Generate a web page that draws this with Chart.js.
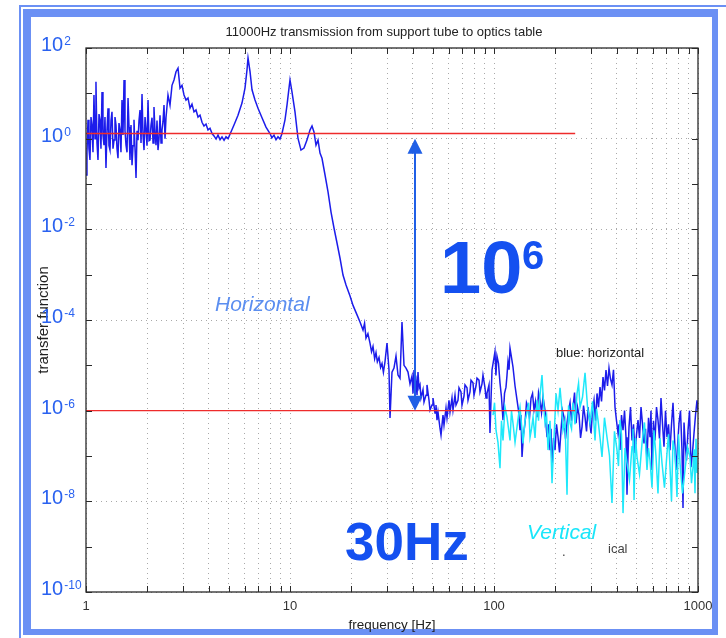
<!DOCTYPE html>
<html>
<head>
<meta charset="utf-8">
<title>11000Hz transmission</title>
<script src="https://cdn.jsdelivr.net/npm/chart.js@4.4.0/dist/chart.umd.min.js"></script>
<style>
  html, body { margin: 0; padding: 0; background: #fff; }
  canvas { display: block; }
</style>
</head>
<body>
<canvas id="tfChart" width="726" height="638"></canvas>
<script>
// horizontal transfer function (blue)
const freqH = [
    1.00, 1.011, 1.023, 1.034, 1.046, 1.058, 1.07, 1.082, 1.094, 1.107, 1.119, 1.132, 1.145, 1.158, 1.171, 1.184, 1.198, 1.211, 1.225, 1.239,
    1.253, 1.267, 1.282, 1.296, 1.311, 1.326, 1.341, 1.356, 1.372, 1.387, 1.403, 1.419, 1.435, 1.451, 1.468, 1.484, 1.501, 1.518, 1.536, 1.553,
    1.571, 1.589, 1.607, 1.625, 1.643, 1.662, 1.681, 1.700, 1.719, 1.739, 1.759, 1.779, 1.799, 1.819, 1.84, 1.861, 1.882, 1.903, 1.925, 1.947,
    1.969, 1.991, 2.014, 2.037, 2.06, 2.083, 2.107, 2.131, 2.154, 2.179, 2.204, 2.229, 2.254, 2.280, 2.306, 2.332, 2.358, 2.385, 2.412, 2.440,
    2.467, 2.523, 2.581, 2.64, 2.70, 2.762, 2.825, 2.89, 2.955, 3.023, 3.092, 3.162, 3.234, 3.308, 3.384, 3.461, 3.54, 3.621, 3.704, 3.788, 3.875, 3.963, 4.054,
    4.15, 4.241, 4.34, 4.437, 4.54, 4.642, 4.75, 4.856, 4.97, 5.08, 5.314, 5.56, 5.816, 6.017, 6.155, 6.226, 6.369, 6.513, 6.737, 6.969, 7.29,
    7.627, 7.98, 8.15, 8.348, 8.54, 8.733, 8.93, 9.137, 9.451, 9.667, 9.888, 10.0,
    10.23, 10.58, 10.94, 11.32, 11.71, 12.11, 12.53, 12.82, 13.11, 13.41, 13.72, 14.03, 14.35, 14.85, 15.36, 15.89, 16.43, 17.0, 17.59, 18.19,
    18.82, 19.69, 20.37, 21.31, 22.04, 22.8, 23.2, 23.58, 24.1, 24.67, 25.1, 25.52, 26.0, 26.4, 26.8, 27.31, 27.8, 28.25, 28.7, 29.22, 29.89,
    30.57, 30.92, 31.62, 32.34, 33.08, 33.84, 34.61, 35.4, 36.21, 37.04, 37.88, 38.75, 39.63,
    40.09, 40.54, 41.0, 41.47, 41.94, 42.41, 42.89, 43.38, 43.87, 44.87,
    45.38, 46.42, 46.94, 48.02, 48.56, 49.67, 50.23, 51.38, 51.96, 52.55,
    53.15, 54.36, 54.98, 56.23, 56.87, 58.17, 58.83, 60.17, 60.85, 62.24,
    62.95, 64.39, 65.12, 66.6, 67.36, 68.9, 69.68, 71.27, 72.08, 73.73,
    74.57, 76.27, 77.14, 78.89, 79.79, 81.61, 82.54, 84.42, 85.38, 87.33,
    88.32, 90.34, 91.37, 92.4, 94.51, 95.58, 96.67, 97.77,
    101.1, 102.2, 103.4, 105.2, 107.0, 108.8, 110.7, 112.6, 114.5, 115.8,
    117.1, 118.5, 119.8, 121.8, 123.9, 126.8, 129.7, 131.9, 134.1, 135.6,
    137.2, 139.5, 141.9, 144.3, 146.8, 149.3, 151.9, 154.5, 157.1, 159.8,
    162.5, 165.3, 168.1, 171.0, 173.9, 177.9, 181.9, 185.0, 188.2, 190.3,
    192.5, 195.8, 199.1, 202.5, 206.0, 209.5, 213.1, 216.7, 220.4, 224.2,
    228.0, 231.9, 235.9, 239.9, 244.0, 248.2, 252.4, 256.7, 261.1, 265.6,
    270.1, 274.7, 279.4, 284.2, 289.0, 294.0, 299.0, 304.1, 309.3, 314.6,
    319.9, 325.4, 330.9, 336.6, 342.3, 348.1, 354.0, 360.1, 366.2, 372.4,
    378.8, 385.3, 391.9, 398.6, 405.4, 410.0, 414.6, 421.7, 429.0, 436.3,
    443.7, 448.7, 453.8, 459.0, 466.8, 474.8, 482.9, 491.2, 499.6, 508.1,
    516.8, 525.6, 534.6, 543.7, 553.0, 562.3, 572.0, 581.7, 588.3, 594.9,
    605.1, 615.4, 626.0, 636.6, 647.6, 658.6, 670.0, 681.3, 693.0, 704.7,
    716.9, 729.0, 741.6, 754.2, 767.1, 780.1, 793.5, 807.0, 820.8, 834.8,
    844.3, 854.0, 863.6, 878.5, 893.4, 908.8, 924.2, 940.0, 956.0, 972.3,
    988.8, 1000
];
const magH = [
    0.158, 0.5, 2.6, 0.6, 0.34, 3.0, 2.0, 0.5, 9.2, 1.0, 18, 0.8, 0.34, 3.5, 2.6, 0.6, 10.7, 1.2, 0.72, 3.0,
    0.225, 1.5, 4.7, 0.7, 0.56, 2.5, 3.9, 0.6, 0.93, 3.0, 2.0, 0.6, 0.37, 2.2, 1.55, 0.5, 7.1, 1.2, 19.7, 1.5,
    0.72, 0.5, 7.9, 1.8, 0.34, 2.0, 0.26, 0.7, 2.6, 0.6, 0.135, 1.5, 0.93, 2.5, 4.3, 0.8, 9.7, 1.2, 0.56, 3.0,
    1.55, 0.7, 7.1, 0.9, 0.93, 2.0, 2.9, 0.8, 5.0, 1.4, 0.72, 2.5, 0.56, 1.0, 3.3, 0.8, 1.55, 2.4, 5.5, 1.0,
    2.9, 9.2, 5.5, 15, 19.7, 30, 36, 13, 15, 9.2, 7.1, 7.9, 4.7, 5.8, 3.9, 4.3, 3.0, 3.3, 2.3, 1.9, 2.1, 1.55, 1.7,
    1.3, 1.15, 0.98, 1.2, 0.95, 1.1, 0.92, 1.1, 1.0, 1.25, 2.0, 3.3, 6.1, 13, 33, 60, 30, 12, 7.1, 4.7, 2.9,
    1.8, 1.3, 1.05, 1.2, 0.95, 1.1, 0.98, 1.3, 2.6, 5.5, 13, 19.7,
    10.7, 3.9, 1.03, 0.56, 0.62, 0.93, 1.55, 1.9, 1.4, 0.72, 0.93, 0.48, 0.37, 0.158, 0.067, 0.024, 0.0107, 5.0e-3, 2.3e-3, 9.8e-4,
    5.9e-4, 3.4e-4, 2.1e-4, 1.3e-4, 9.0e-5, 6.0e-5, 8.5e-5, 4.0e-5, 5.0e-5, 3.1e-5, 2.0e-5, 2.6e-5, 1.4e-5, 1.9e-5, 1.2e-5, 1.5e-5, 9.0e-6, 1.1e-5, 7.0e-6, 1.2e-5, 3.1e-5,
    7.9e-6, 6.9e-7, 7.1e-6, 8.7e-6, 1.6e-5, 6.1e-6, 5.2e-6, 9.0e-5, 1.0e-5, 8.7e-6, 7.1e-6, 3.9e-6, 5.8e-6,
    2.4e-6, 7.9e-6, 3.7e-6, 4.7e-6, 2.2e-6, 7.1e-6, 3.2e-6, 3.7e-6, 1.9e-6, 2.9e-6,
    1.55e-6, 2.2e-6, 3.7e-6, 1.7e-6, 1.03e-6, 1.33e-6, 1.9e-6, 8.9e-7, 1.33e-6, 6.2e-7,
    9.3e-7, 4.1e-7, 2.9e-7, 8.0e-7, 4.8e-7, 1.14e-6, 6.9e-7, 1.7e-6, 9.3e-7, 1.9e-6,
    1.03e-6, 2.2e-6, 1.33e-6, 1.7e-6, 3.2e-6, 2.6e-6, 1.33e-6, 2.1e-6, 3.7e-6, 3.2e-6,
    1.7e-6, 2.6e-6, 4.7e-6, 4.1e-6, 2.2e-6, 3.5e-6, 5.2e-6, 4.7e-6, 2.6e-6, 3.9e-6,
    6.1e-6, 3.2e-6, 1.9e-6, 2.4e-6, 3.7e-6, 3.2e-7, 1.7e-6, 7.9e-6,
    2.0e-5, 6e-6, 1.6e-5, 1.1e-5, 4.1e-6, 2.0e-6, 6.2e-7, 2.4e-6, 3.3e-6, 6e-6,
    1.2e-5, 8e-6, 2.4e-5, 1.5e-5, 9.2e-6, 3.5e-6, 1.7e-6, 1.0e-6, 3.7e-7, 8e-7,
    9.5e-8, 3e-7, 5.3e-7, 1.5e-6, 1.2e-6, 7e-7, 1.9e-6, 2.4e-6, 1.03e-6, 1.6e-6,
    7.2e-7, 2.5e-6, 1.7e-6, 9e-7, 2.0e-6, 1.0e-6, 2.6e-7, 5e-7, 1.35e-7, 4e-7,
    4.9e-8, 2.5e-7, 1.35e-7, 5e-7, 2.6e-7, 1.2e-7, 3.7e-7, 1.0e-6, 7.2e-7, 2.4e-7,
    5.3e-7, 1.0e-6, 1.5e-6, 6e-7, 1.2e-6, 2.5e-6, 5.3e-7, 1.2e-6, 8.0e-7, 2.5e-7,
    4.4e-7, 1.3e-6, 7.2e-7, 3.5e-7, 1.2e-6, 6e-7, 3.2e-7, 1.0e-6, 1.7e-6, 6e-7,
    2.4e-6, 1.2e-6, 3.3e-6, 1.6e-6, 5.5e-6, 2.8e-6, 7.9e-6, 3.5e-6, 8.7e-6, 5e-6,
    3.7e-6, 8e-6, 1.2e-6, 6e-7, 3.2e-7, 5e-7, 1.35e-7, 8e-7, 3.7e-7, 1.0e-6,
    2.6e-7, 1.4e-8, 1.0e-7, 4.4e-7, 1.2e-6, 2.2e-7, 5e-7, 1.16e-7, 3e-7, 6.2e-7,
    2.5e-7, 1.2e-6, 5e-7, 1.9e-7, 4e-7, 8.1e-8, 7e-7, 2.6e-7, 1.0e-6, 4.9e-8,
    6e-7, 2.2e-7, 1.2e-6, 6.2e-7, 2.4e-7, 1.9e-6, 5e-7, 1.6e-7, 1.0e-6, 2.6e-7,
    5e-7, 1.35e-7, 5e-7, 1.5e-6, 2.5e-7, 4.9e-8, 1.6e-7, 5.3e-7, 1.0e-6, 1.35e-7,
    7.1e-9, 5.5e-7, 2.2e-7, 8e-8, 3.7e-7, 1.0e-6, 5.7e-8, 1.2e-7, 3.2e-7, 8e-7,
    1.7e-6, 1.0e-6
];

// vertical transfer function (cyan), only measured above 100 Hz
const freqV = [
    98.9, 100.6, 102.3, 104.6, 107.0, 108.8, 110.7, 113.2, 115.8, 117.8,
    119.8, 121.8, 123.9, 126.8, 129.7, 131.9, 134.1, 136.4, 138.7, 141.9,
    145.1, 147.6, 150.2, 152.8, 155.4, 158.9, 162.5, 165.3, 168.1, 171.9,
    175.0, 177.8, 181.0, 184.0, 188.2, 192.5, 196.9, 201.4, 206.0, 210.7,
    214.3, 217.9, 222.9, 228.0, 232.0, 235.9, 239.9, 244.0, 249.6, 255.3,
    259.7, 264.1, 271.6, 279.4, 287.4, 295.6, 304.0, 312.8, 318.1, 323.5,
    331.0, 338.4, 348.0, 358.0, 368.3, 378.8, 389.5, 400.8, 407.6, 414.6,
    421.7, 429.0, 438.8, 448.7, 461.5, 474.8, 480.0, 485.8, 494.0, 502.3,
    516.6, 531.5, 546.6, 562.3, 571.9, 581.7, 595.0, 608.5, 622.3, 636.6,
    651.2, 666.1, 685.0, 704.7, 716.8, 729.0, 741.5, 754.2, 771.5, 789.0,
    802.5, 816.2, 839.6, 863.6, 888.3, 913.7, 929.3, 945.0, 956.0, 966.7,
    977.7, 988.8
];
const magV = [
    8.0e-7, 1.5e-6, 3.7e-7, 2.0e-7, 5.4e-8, 6e-7, 2.2e-7, 1.2e-6, 7.2e-7, 4e-7,
    2.2e-7, 1.0e-6, 5.3e-7, 2.0e-7, 4.4e-7, 8e-7, 1.2e-6, 5e-7, 1.9e-7, 6e-7,
    8.9e-7, 1.5e-6, 2.6e-7, 4e-7, 7.2e-7, 2.5e-7, 1.7e-6, 6e-7, 2.2e-6, 6.1e-6,
    1.4e-6, 5.3e-7, 8e-7, 1.35e-7, 6e-7, 2.5e-8, 2.5e-7, 2.4e-6, 1.0e-6, 3.2e-6,
    1.3e-6, 3.7e-7, 6e-7, 1.4e-8, 1.3e-6, 5.3e-7, 4e-7, 1.5e-6, 5e-7, 2.4e-6,
    4e-6, 1.2e-6, 2.0e-6, 6.8e-6, 1.2e-6, 5.3e-7, 1.6e-6, 2.2e-7, 1.1e-6, 6.2e-7,
    2.5e-7, 9.5e-8, 7e-7, 2.6e-7, 1.0e-7, 9.2e-9, 3.5e-7, 1.35e-7, 6e-8, 6.2e-7,
    3e-7, 5.5e-9, 1.5e-7, 7.0e-8, 3e-8, 1.6e-7, 4e-7, 1.07e-8, 2.5e-7, 9.5e-8,
    4e-8, 1.9e-7, 5.5e-7, 4.9e-8, 1.5e-7, 8.1e-8, 2e-8, 3.7e-7, 1.0e-7, 1.5e-8,
    2.5e-7, 7.0e-8, 2.0e-8, 1.16e-7, 3e-7, 5.7e-8, 1.0e-8, 2.2e-7, 1.2e-7, 1.25e-8,
    3e-7, 7.0e-8, 1.5e-8, 4.9e-8, 1.6e-7, 9.5e-8, 2.5e-8, 5.7e-8, 1.4e-7, 1.5e-8,
    2.4e-7, 4.2e-8
];

// red reference levels and the arrow between them
const refFreq = [1, 250];
const refTop = 1.3;
const refBottom = 1.0e-6;
const arrowFreq = 41;
const arrowFrom = 1.0;
const arrowTo = 1.0e-6;

// axes
const xGrid = [1, 2, 3, 4, 5, 6, 7, 8, 9, 10, 20, 30, 40, 50, 60, 70, 80, 90, 100, 200, 300, 400, 500, 600, 700, 800, 900, 1000];
const xLabels = [1, 10, 100, 1000];
const yDecades = [1e2, 1e1, 1e0, 1e-1, 1e-2, 1e-3, 1e-4, 1e-5, 1e-6, 1e-7, 1e-8, 1e-9, 1e-10];
const yLabelValues = [1e2, 1e0, 1e-2, 1e-4, 1e-6, 1e-8, 1e-10];
const yLabelExps = ['2', '0', '-2', '-4', '-6', '-8', '-10'];

const FONT = "'Liberation Sans', Arial, sans-serif";

function line(c, x1, y1, x2, y2) {
    c.beginPath();
    c.moveTo(x1, y1);
    c.lineTo(x2, y2);
    c.stroke();
}

const overlay = {
    id: 'overlay',
    beforeDraw(chart) {
        const c = chart.ctx;
        c.save();
        c.fillStyle = '#ffffff';
        c.fillRect(0, 0, chart.width, chart.height);
        // slide frame
        c.fillStyle = '#6b90f4';
        c.fillRect(19, 5, 707, 2);
        c.fillRect(19, 5, 2, 633);
        c.fillRect(23, 9, 695, 8);
        c.fillRect(23, 9, 8, 626);
        c.fillRect(712, 9, 6, 626);
        c.fillRect(23, 629, 695, 6);
        c.restore();
    },
    afterDatasetsDraw(chart) {
        const c = chart.ctx;
        const { left, right, top, bottom } = chart.chartArea;
        const xs = chart.scales.x;
        const ys = chart.scales.y;
        c.save();
        // axes box and inward ticks
        c.strokeStyle = '#2a2a2a';
        c.lineWidth = 1.3;
        c.strokeRect(left, top, right - left, bottom - top);
        c.lineWidth = 1;
        xGrid.forEach(v => {
            const px = Math.round(xs.getPixelForValue(v)) + 0.5;
            line(c, px, bottom, px, bottom - 6);
            line(c, px, top, px, top + 6);
        });
        yDecades.forEach(v => {
            const py = Math.round(ys.getPixelForValue(v)) + 0.5;
            line(c, left, py, left + 6, py);
            line(c, right, py, right - 6, py);
        });
        // double arrow
        const ax = xs.getPixelForValue(arrowFreq);
        const ay1 = ys.getPixelForValue(arrowFrom);
        const ay2 = ys.getPixelForValue(arrowTo);
        c.strokeStyle = '#1f5fe6';
        c.fillStyle = '#1f5fe6';
        c.lineWidth = 2;
        line(c, ax, ay1 + 12, ax, ay2 - 12);
        c.beginPath();
        c.moveTo(ax, ay1);
        c.lineTo(ax - 7.5, ay1 + 15);
        c.lineTo(ax + 7.5, ay1 + 15);
        c.closePath();
        c.fill();
        c.beginPath();
        c.moveTo(ax, ay2);
        c.lineTo(ax - 7.5, ay2 - 15);
        c.lineTo(ax + 7.5, ay2 - 15);
        c.closePath();
        c.fill();
        c.restore();
    },
    afterDraw(chart) {
        const c = chart.ctx;
        const { left, right } = chart.chartArea;
        const ys = chart.scales.y;
        c.save();
        // title and axis titles
        c.fillStyle = '#222';
        c.textAlign = 'center';
        c.textBaseline = 'alphabetic';
        c.font = '13px ' + FONT;
        c.fillText('11000Hz transmission from support tube to optics table', 384, 36);
        c.textBaseline = 'middle';
        c.font = '13.5px ' + FONT;
        c.fillText('frequency [Hz]', (left + right) / 2, 625);
        c.save();
        c.translate(44, 320);
        c.rotate(-Math.PI / 2);
        c.font = '15px ' + FONT;
        c.fillText('transfer function', 0, 0);
        c.restore();

        // y tick labels 10^n
        c.textAlign = 'left';
        c.textBaseline = 'alphabetic';
        c.fillStyle = '#2a62f0';
        yLabelValues.forEach((v, i) => {
            const py = ys.getPixelForValue(v);
            const base = py + 3;
            c.font = '20px ' + FONT;
            c.fillText('10', 41, base);
            const w = c.measureText('10').width;
            c.font = '12px ' + FONT;
            c.fillText(yLabelExps[i], 41 + w + 1, base - 6);
        });

        // annotations
        c.fillStyle = '#5b8ef0';
        c.font = 'italic 21px ' + FONT;
        c.fillText('Horizontal', 215, 311);
        c.fillStyle = '#19e6fa';
        c.fillText('Vertical', 527, 539);

        c.fillStyle = '#1450f0';
        c.font = 'bold 74px ' + FONT;
        c.fillText('10', 440, 293);
        c.font = 'bold 40px ' + FONT;
        c.fillText('6', 522, 269);
        c.font = 'bold 53px ' + FONT;
        c.fillText('30Hz', 345, 560);

        c.fillStyle = '#222';
        c.font = '13px ' + FONT;
        c.fillText('blue: horizontal', 556, 357);
        c.fillStyle = '#444';
        c.fillText('ical', 608, 553);
        c.fillText('.', 562, 556);
        c.restore();
    }
};

document.addEventListener('DOMContentLoaded', () => {
    const ctx = document.getElementById('tfChart').getContext('2d');

    const gridColor = '#a9a9a9';

    const tfChart = new Chart(ctx, {
        type: 'line',
        data: {
            datasets: [
                {
                    label: 'reference 1',
                    data: refFreq.map(f => ({ x: f, y: refTop })),
                    borderColor: '#ee2b2b',
                    borderWidth: 1.4,
                    pointRadius: 0,
                    order: 0
                },
                {
                    label: 'reference 1e-6',
                    data: refFreq.map(f => ({ x: f, y: refBottom })),
                    borderColor: '#ee2b2b',
                    borderWidth: 1.4,
                    pointRadius: 0,
                    order: 0
                },
                {
                    label: 'vertical',
                    data: freqV.map((f, i) => ({ x: f, y: magV[i] })),
                    borderColor: 'rgb(30, 232, 250)',
                    borderWidth: 1.5,
                    pointRadius: 0,
                    order: 1
                },
                {
                    label: 'horizontal',
                    data: freqH.map((f, i) => ({ x: f, y: magH[i] })),
                    borderColor: 'rgb(28, 28, 235)',
                    borderWidth: 1.5,
                    pointRadius: 0,
                    order: 2
                }
            ]
        },
        options: {
            responsive: false,
            animation: false,
            layout: { padding: { left: 0, top: 48, right: 28, bottom: 0 } },
            plugins: {
                legend: { display: false },
                tooltip: { enabled: false },
                title: { display: false }
            },
            elements: { line: { tension: 0 } },
            scales: {
                x: {
                    type: 'logarithmic',
                    min: 1,
                    max: 1000,
                    afterBuildTicks: scale => { scale.ticks = xGrid.map(v => ({ value: v })); },
                    afterFit: scale => { scale.height = 46; },
                    grid: { color: gridColor, lineWidth: 1, drawTicks: false },
                    border: { display: false, dash: [1, 4] },
                    ticks: {
                        autoSkip: false,
                        maxRotation: 0,
                        padding: 7,
                        color: '#333',
                        font: { family: FONT, size: 13 },
                        callback: v => xLabels.includes(v) ? String(v) : ''
                    }
                },
                y: {
                    type: 'logarithmic',
                    min: 1e-10,
                    max: 1e2,
                    afterBuildTicks: scale => { scale.ticks = yDecades.map(v => ({ value: v })); },
                    afterFit: scale => { scale.width = 86; },
                    grid: {
                        drawTicks: false,
                        lineWidth: 1,
                        color: c => (c.tick && yLabelValues.includes(c.tick.value)) ? gridColor : 'rgba(0,0,0,0)'
                    },
                    border: { display: false, dash: [1, 4] },
                    ticks: { display: false }
                }
            }
        },
        plugins: [overlay]
    });
});
</script>
</body>
</html>
